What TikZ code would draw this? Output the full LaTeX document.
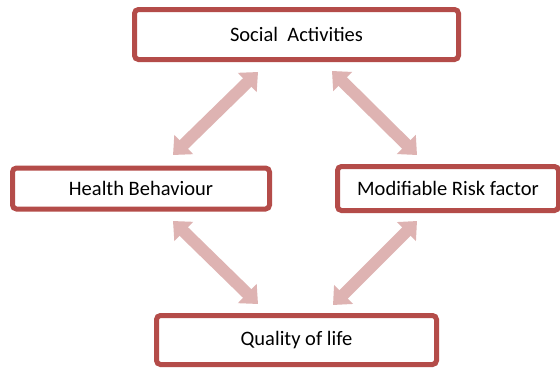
\documentclass[tikz,border=0pt]{standalone}
\usepackage{fontspec}
\setmainfont{Carlito}
\usetikzlibrary{arrows.meta}
\definecolor{boxred}{RGB}{180,76,73}
\definecolor{arrowpink}{RGB}{222,179,178}
\tikzset{
  box/.style={draw=boxred, line width=5pt, rounded corners=4pt, fill=white,
    font=\fontsize{20.5}{24}\selectfont, inner sep=0pt},
  link/.style={draw=arrowpink, line width=12pt,
    {Triangle[width=26pt,length=15pt,fill=arrowpink]}-{Triangle[width=26pt,length=15pt,fill=arrowpink]}}
}
\begin{document}
\begin{tikzpicture}[x=1pt,y=-1pt]
  \useasboundingbox (0,0) rectangle (560,370);
  \clip (0,0) rectangle (560,370);
  \fill[white] (0,0) rectangle (560,370);

  % the four factors
  \node[box, minimum width=324pt, minimum height=50pt] (social) at (296.5,34.5) {Social\ \ Activities};
  \node[box, minimum width=257pt, minimum height=41pt] (health) at (141,188.5) {Health Behaviour};
  \node[box, minimum width=221pt, minimum height=44pt] (risk) at (448,188.5) {Modifiable Risk factor};
  \node[box, minimum width=280pt, minimum height=49pt] (quality) at (296.5,340) {Quality of life};

  % ends of the two-way links
  \coordinate (sh1) at (258,72);  \coordinate (sh2) at (173,155);
  \coordinate (sr1) at (332,71);  \coordinate (sr2) at (417,155);
  \coordinate (hq1) at (173,221); \coordinate (hq2) at (258,304);
  \coordinate (rq1) at (417,221); \coordinate (rq2) at (333,305);

  \draw[link] (sh1) -- (sh2);
  \draw[link] (sr1) -- (sr2);
  \draw[link] (hq1) -- (hq2);
  \draw[link] (rq1) -- (rq2);
\end{tikzpicture}
\end{document}
